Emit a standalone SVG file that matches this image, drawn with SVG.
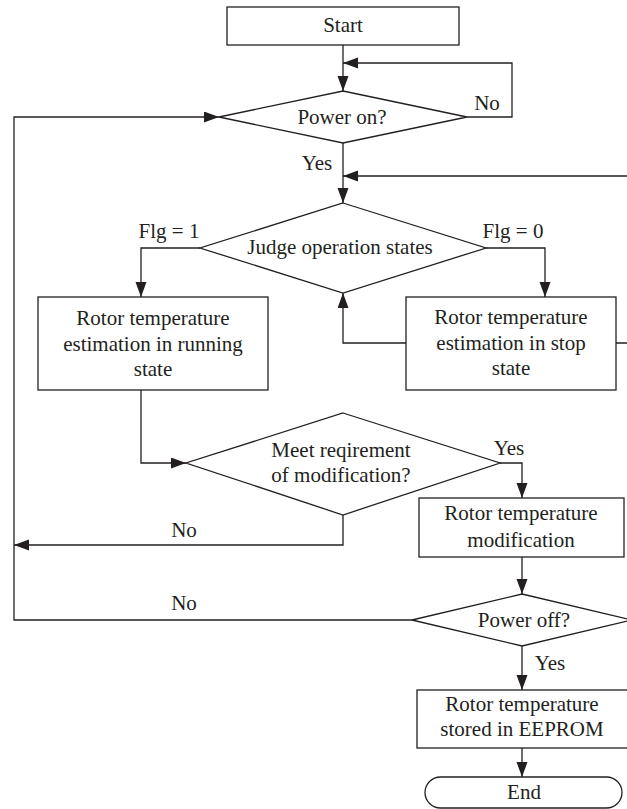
<svg xmlns="http://www.w3.org/2000/svg" width="627" height="809" viewBox="0 0 627 809">
<defs>
<marker id="ah" markerUnits="userSpaceOnUse" markerWidth="16" markerHeight="12" refX="15" refY="5.5" orient="auto">
<path d="M0,0 L15,5.5 L0,11 z" fill="#231f20"/>
</marker>
<style>
.s{fill:#fff;stroke:#231f20;stroke-width:1.3}
.c{fill:none;stroke:#231f20;stroke-width:1.3;marker-end:url(#ah)}
.n{fill:none;stroke:#231f20;stroke-width:1.3}
text{font-family:"Liberation Serif","Times New Roman",serif;font-size:21px;fill:#231f20;text-anchor:middle}
</style>
</defs>
<rect width="627" height="809" fill="#fff"/>
<g id="connectors">
<path class="c" d="M343,45 V91"/>
<path class="c" d="M467,117 H512 V63 H343"/>
<path class="c" d="M412,620 H14 V117 H219"/>
<path class="c" d="M343,143 V203"/>
<path class="c" d="M616,343 H640 V176 H343"/>
<path class="c" d="M200,248 H141 V297"/>
<path class="c" d="M486,248 H545 V297"/>
<path class="c" d="M406,343 H343 V293"/>
<path class="c" d="M141,390 V463 H186"/>
<path class="c" d="M500,463 H522 V498"/>
<path class="c" d="M343,515 V545 H14"/>
<path class="c" d="M522,557 V594"/>
<path class="c" d="M522,646 V690"/>
<path class="c" d="M522,748 V777"/>
</g>
<g id="start">
<rect class="s" x="227" y="7" width="232" height="38"/>
<text x="343" y="32">Start</text>
</g>
<g id="power-on">
<polygon class="s" points="343,91 467,117 343,143 219,117"/>
<text x="342" y="124">Power on?</text>
</g>
<g id="judge">
<polygon class="s" points="343,203 486,248 343,293 200,248"/>
<text x="340" y="254">Judge operation states</text>
</g>
<g id="running">
<rect class="s" x="38" y="297" width="230" height="93"/>
<text x="153" y="325">Rotor temperature</text>
<text x="153" y="351">estimation in running</text>
<text x="153" y="376">state</text>
</g>
<g id="stop">
<rect class="s" x="406" y="297" width="210" height="93"/>
<text x="511" y="324">Rotor temperature</text>
<text x="511" y="350">estimation in stop</text>
<text x="511" y="375">state</text>
</g>
<g id="meet">
<polygon class="s" points="343,413 500,463 343,515 186,463"/>
<text x="341" y="457">Meet reqirement</text>
<text x="341" y="482">of modification?</text>
</g>
<g id="modification">
<rect class="s" x="419" y="498" width="205" height="59"/>
<text x="521" y="520">Rotor temperature</text>
<text x="521" y="547">modification</text>
</g>
<g id="power-off">
<polygon class="s" points="522,594 632,620 522,646 412,620"/>
<text x="524" y="627">Power off?</text>
</g>
<g id="eeprom">
<rect class="s" x="417" y="690" width="211" height="58"/>
<text x="522" y="711">Rotor temperature</text>
<text x="522" y="736">stored in EEPROM</text>
</g>
<g id="end">
<rect class="s" x="425" y="777" width="197" height="31" rx="15.5" ry="15.5"/>
<text x="524" y="799">End</text>
</g>
<g id="labels">
<text x="487" y="110">No</text>
<text x="317" y="170">Yes</text>
<text x="169" y="238">Flg = 1</text>
<text x="513" y="238">Flg = 0</text>
<text x="509" y="455">Yes</text>
<text x="184" y="537">No</text>
<text x="184" y="610">No</text>
<text x="550" y="670">Yes</text>
</g>
</svg>
